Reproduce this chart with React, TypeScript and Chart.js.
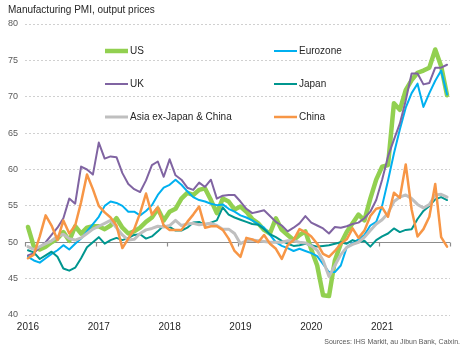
import React, { useEffect, useRef } from 'react';
import { Chart, registerables } from 'chart.js';

Chart.register(...registerables);

const FONT = '"Liberation Sans", Arial, Helvetica, sans-serif';

const titleText = 'Manufacturing PMI, output prices';
const sourceText = 'Sources: IHS Markit, au Jibun Bank, Caixin.';

const years = ['2016', '2017', '2018', '2019', '2020', '2021'];
const monthNames = ['Jan', 'Feb', 'Mar', 'Apr', 'May', 'Jun', 'Jul', 'Aug', 'Sep', 'Oct', 'Nov', 'Dec'];
const months = years.flatMap((y) => monthNames.map((m) => `${m} ${y}`));

const seriesNames = ['US', 'Eurozone', 'UK', 'Japan', 'Asia ex-Japan & China', 'China'];

const us = [
  52.1, 49.4, 49.0, 49.4, 50.0, 50.5, 51.4, 50.2, 52.2, 51.2, 52.0, 52.2,
  52.2, 51.8, 52.3, 53.3, 52.0, 51.2, 51.5, 52.0, 52.8, 53.4, 54.6, 53.0,
  54.2, 54.6, 56.0, 56.8, 56.5, 57.2, 57.4, 55.8, 54.0, 56.0, 55.6, 54.5,
  54.9, 54.2, 53.2, 52.6, 51.7, 51.2, 53.3, 51.7, 51.0, 50.3, 51.0, 51.5,
  49.0, 46.8, 42.7, 42.6, 47.5, 49.8, 51.4, 52.6, 53.8, 53.0, 56.0, 58.6,
  60.4, 60.6, 69.1, 68.2, 70.9, 72.3, 73.3, 73.6, 74.0, 76.5, 74.2, 70.2,
];
const eurozone = [
  48.0, 47.5, 47.2, 47.8, 48.4, 48.9, 49.6, 49.0, 49.8, 50.5, 51.5, 52.5,
  53.5, 55.0, 55.6, 55.4, 55.0, 54.2, 54.2, 53.7, 54.3, 55.1, 56.5, 57.5,
  57.9, 58.6, 57.9, 57.0, 56.2, 55.8, 55.6, 55.3, 55.1, 55.2, 54.6, 54.2,
  53.7, 53.4, 53.0, 52.5, 52.0, 51.0, 50.0, 49.5, 49.2, 48.8, 49.1, 48.8,
  48.5, 48.1, 47.0, 45.9, 45.9, 46.8, 49.3, 49.9, 50.4, 51.0, 52.3, 52.8,
  55.0, 58.5, 62.2, 65.5, 68.5, 70.5, 71.8, 68.6, 70.5, 72.2, 73.6, 70.3,
];
const uk = [
  48.2, 48.5, 49.3, 50.0, 51.0, 52.0, 53.3, 56.0, 55.3, 60.4, 60.0, 59.3,
  63.7, 61.5, 61.8, 61.7, 59.5, 58.0, 57.3, 56.9, 58.5, 60.6, 61.1, 59.0,
  61.4, 59.2, 58.6, 57.5, 57.2, 58.2, 57.6, 58.6, 56.0, 56.4, 56.5, 56.5,
  55.6, 54.6, 54.0, 54.2, 54.4, 53.6, 52.8, 52.3, 51.5, 52.0, 52.6, 53.6,
  52.7, 52.3, 51.9, 51.2, 52.1, 52.0, 52.2, 52.5, 52.7, 53.3, 54.2, 55.8,
  58.6, 61.8, 64.1, 66.3, 69.5, 73.2, 73.2, 71.7, 71.9, 74.0, 74.0, 74.4,
];
const japan = [
  48.9, 48.6, 47.7, 48.2, 48.7, 48.0, 46.4, 46.1, 46.5, 47.8, 49.3, 50.0,
  50.7, 49.8, 50.3, 50.6, 50.3, 50.6, 51.0, 51.1, 50.5, 50.8, 51.5, 52.3,
  52.1, 51.6, 51.6, 52.0, 52.7, 52.8, 52.4, 52.7, 53.0, 54.8, 53.8, 53.4,
  53.1, 52.8, 52.5, 52.4, 51.8, 51.1, 50.7, 50.2, 49.8, 49.5, 49.6, 49.8,
  49.6, 49.4, 49.5, 49.6, 49.8, 50.0, 49.8, 50.3, 50.0, 50.2, 49.4, 50.3,
  50.8, 51.2, 51.9, 51.4, 51.7, 51.8, 53.2, 54.3, 55.0, 55.9, 56.2, 55.8,
];
const asiaExJapanChina = [
  49.4, 49.0, 49.4, 49.8, 50.2, 50.8, 51.1, 50.5, 50.3, 50.6, 51.2, 51.8,
  52.2, 52.6, 53.0, 52.0, 51.0, 50.3, 50.4, 51.2, 51.7, 51.9, 52.2, 52.1,
  52.3, 53.0, 52.3, 52.5, 52.6, 52.4, 52.5, 52.6, 52.3, 51.8, 51.8, 51.2,
  49.8, 50.2, 50.3, 50.2, 50.1, 50.0, 50.0, 50.0, 50.2, 50.2, 50.0, 49.9,
  49.5, 48.9, 47.5, 45.3, 46.8, 48.3, 49.3, 49.7, 50.0, 50.7, 51.6, 52.5,
  53.1, 54.0, 55.6, 56.2, 56.5, 56.0, 55.2, 54.7, 55.2, 56.5, 56.6, 56.2,
];
const china = [
  47.8, 48.3, 50.8, 53.7, 52.3, 50.3, 53.0, 51.2, 52.3, 55.5, 59.3, 57.3,
  55.0, 54.1, 53.4, 52.3, 49.2, 50.5, 51.8, 54.0, 56.7, 53.8, 54.8, 52.3,
  51.7, 51.7, 51.7, 52.8, 53.8, 54.9, 52.0, 52.2, 52.2, 51.7, 50.5, 48.8,
  48.0, 50.6, 50.4, 50.0, 51.0, 49.8, 49.1, 47.7, 49.6, 50.3, 51.8, 51.4,
  50.8, 49.8, 48.4, 48.0, 48.8, 49.8, 50.4, 51.9, 50.6, 51.6, 53.6, 54.6,
  54.8, 53.5, 56.8, 56.1, 60.7, 54.5, 50.8, 51.8, 53.5, 58.0, 50.7, 49.4,
];

const seriesValues = [us, eurozone, uk, japan, asiaExJapanChina, china];
const seriesColors = ['#92d050', '#00b0f0', '#8064a2', '#00968f', '#bfbfbf', '#f79646'];
const seriesWidths = [4.5, 2, 2, 2, 3, 2.5];

const legendSlots = [
  { x: 105, y: 51 },
  { x: 274, y: 51 },
  { x: 105, y: 84 },
  { x: 274, y: 84 },
  { x: 105, y: 117 },
  { x: 274, y: 117 },
];

const overlayPlugin = {
  id: 'overlay',
  beforeDatasetsDraw(chart: any) {
    const { ctx, chartArea, scales } = chart;
    const x = scales.x;
    const y = scales.y;
    const y50 = Math.round(y.getPixelForValue(50)) + 0.5;
    ctx.save();
    ctx.strokeStyle = '#8c8c8c';
    ctx.lineWidth = 1.2;
    ctx.beginPath();
    ctx.moveTo(chartArea.left, y50);
    ctx.lineTo(chartArea.right, y50);
    for (let k = 0; k <= years.length; k++) {
      const px = Math.round(x.getPixelForValue(k * 12 - 0.5)) + 0.5;
      ctx.moveTo(px, y50);
      ctx.lineTo(px, y50 + 4);
    }
    ctx.stroke();
    ctx.restore();
  },
  afterDraw(chart: any) {
    const { ctx } = chart;
    ctx.save();
    ctx.textBaseline = 'middle';
    ctx.fillStyle = '#262626';
    ctx.font = `10px ${FONT}`;
    ctx.textAlign = 'left';
    ctx.fillText(titleText, 8, 10);

    seriesNames.forEach((name, i) => {
      const s = legendSlots[i];
      ctx.strokeStyle = seriesColors[i];
      ctx.lineWidth = seriesWidths[i];
      ctx.beginPath();
      ctx.moveTo(s.x, s.y);
      ctx.lineTo(s.x + 23, s.y);
      ctx.stroke();
      ctx.fillStyle = '#262626';
      ctx.fillText(name, s.x + 25, s.y);
    });

    ctx.font = `7px ${FONT}`;
    ctx.fillStyle = '#595959';
    ctx.textAlign = 'right';
    ctx.fillText(sourceText, 460, 342);
    ctx.restore();
  },
};

export default function App() {
  const canvasRef = useRef<HTMLCanvasElement | null>(null);

  useEffect(() => {
    const canvas = canvasRef.current;
    if (!canvas) return;
    const datasets = seriesNames.map((name, i) => ({
      label: name,
      data: seriesValues[i].map((v, k) => ({ x: k, y: v })),
      borderColor: seriesColors[i],
      backgroundColor: seriesColors[i],
      borderWidth: seriesWidths[i],
      pointRadius: 0,
      tension: 0,
      borderJoinStyle: 'round' as const,
      borderCapStyle: 'round' as const,
      fill: false,
      order: seriesNames.length - i,
    }));

    const chart = new Chart(canvas, {
      type: 'line',
      data: { labels: months, datasets },
      options: {
        animation: false,
        responsive: false,
        devicePixelRatio: 1,
        layout: { padding: { top: 24, right: 15, left: 8, bottom: 14 } },
        plugins: { legend: { display: false }, tooltip: { enabled: false }, title: { display: false } },
        scales: {
          x: {
            type: 'linear',
            min: -0.5,
            max: 71.5,
            afterBuildTicks: (s: any) => {
              s.ticks = years.map((_, k) => ({ value: k * 12 }));
            },
            ticks: {
              autoSkip: false,
              maxRotation: 0,
              color: '#262626',
              font: { size: 10, family: FONT },
              padding: 6,
              callback: (v: any) => years[Math.round(Number(v) / 12)] ?? '',
            },
            grid: { display: false, drawTicks: false },
            border: { display: false },
          },
          y: {
            min: 40,
            max: 80,
            afterFit: (s: any) => {
              s.width = 17;
            },
            ticks: {
              stepSize: 5,
              color: '#595959',
              font: { size: 9, family: FONT },
              padding: 7,
            },
            grid: { color: '#d0d0d0', drawTicks: false, lineWidth: 1 },
            border: { display: false, dash: [2, 2] },
          },
        },
      },
      plugins: [overlayPlugin],
    });
    return () => chart.destroy();
  }, []);

  return (
    <div style={{ position: 'fixed', left: 0, top: 0, width: 465, height: 353, background: '#ffffff' }}>
      <canvas ref={canvasRef} width={465} height={353} style={{ display: 'block', width: 465, height: 353 }} />
    </div>
  );
}
